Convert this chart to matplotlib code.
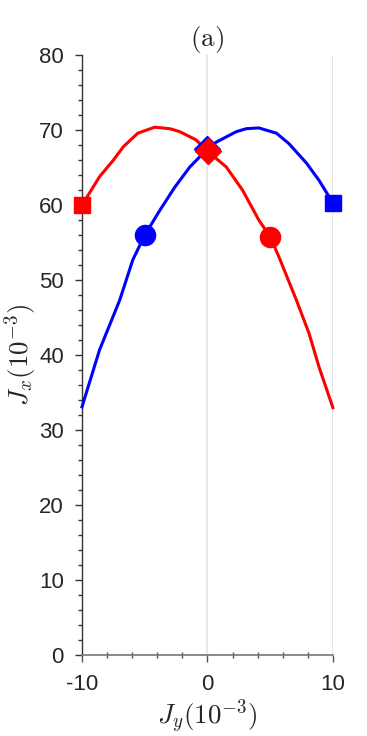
import matplotlib
matplotlib.use("Agg")
import matplotlib.pyplot as plt
from matplotlib.ticker import MultipleLocator

plt.rcParams['mathtext.fontset'] = 'cm'
plt.rcParams['axes.unicode_minus'] = False
plt.rcParams['font.family'] = ['Liberation Sans', 'DejaVu Sans']

# Blue curve
blue_x = [-10, -8.6, -7.0, -5.95, -5.0, -3.8, -2.6, -1.4, 0.0, 0.7, 2.3, 3.1, 4.1, 5.5, 6.5, 7.9, 8.9, 10.0]
blue_y = [33.1, 40.7, 47.3, 52.7, 56.0, 59.3, 62.4, 65.1, 67.5, 68.4, 69.8, 70.2, 70.3, 69.6, 68.2, 65.6, 63.3, 60.3]
# Red curve
red_x = [-10, -8.6, -7.5, -6.7, -5.55, -4.2, -3.0, -2.2, -0.9, 0.0, 1.5, 2.8, 4.1, 5.0, 5.7, 7.1, 8.1, 8.9, 10.0]
red_y = [60.0, 63.8, 66.0, 67.8, 69.6, 70.4, 70.2, 69.8, 68.7, 67.2, 65.1, 62.0, 58.0, 55.8, 53.1, 47.3, 42.9, 38.4, 33.0]

# Marker points
blue_sq = (10.0, 60.3); blue_circ = (-5.0, 56.0); blue_dia = (-0.05, 67.5)
red_sq = (-10.0, 60.0); red_circ = (5.0, 55.8); red_dia = (0.05, 67.2)

xticks = [-10, 0, 10]
xticklabels = ['-10', '0', '10']
yticks = [0, 10, 20, 30, 40, 50, 60, 70, 80]

fig = plt.figure(figsize=(3.67, 7.36), dpi=100)
ax = fig.add_axes([0.2234, 0.110, 0.6836, 0.815])

ax.set_xlim(-10, 10)
ax.set_ylim(0, 80)

ax.xaxis.grid(True, color='#e3e3e3', lw=1.2, zorder=0)
ax.set_axisbelow(True)

ax.plot(blue_x, blue_y, color='blue', lw=2.2, zorder=3, clip_on=False)
ax.plot(red_x, red_y, color='red', lw=2.2, zorder=4, clip_on=False)

ax.plot(*blue_sq, 's', color='blue', ms=11, zorder=5, clip_on=False)
ax.plot(*blue_circ, 'o', color='blue', ms=14.5, zorder=5, clip_on=False)
ax.plot(*blue_dia, 'D', color='blue', ms=13, zorder=5, clip_on=False)
ax.plot(*red_sq, 's', color='red', ms=11, zorder=6, clip_on=False)
ax.plot(*red_circ, 'o', color='red', ms=14.5, zorder=6, clip_on=False)
ax.plot(*red_dia, 'D', color='red', ms=13, zorder=6, clip_on=False)

ax.spines['top'].set_visible(False)
ax.spines['right'].set_visible(False)
ax.spines['left'].set_color('#333333')
ax.spines['bottom'].set_color('#777777')
ax.spines['left'].set_linewidth(1.0)
ax.spines['bottom'].set_linewidth(1.2)

ax.set_xticks(xticks)
ax.set_xticklabels(xticklabels)
ax.set_yticks(yticks)
ax.xaxis.set_minor_locator(MultipleLocator(2))
ax.yaxis.set_minor_locator(MultipleLocator(2))
ax.tick_params(axis='x', which='major', direction='out', length=5, width=1, colors='#555555', labelcolor='#262626', labelsize=16, pad=9)
ax.tick_params(axis='x', which='minor', direction='inout', length=4, width=1, colors='#555555')
ax.tick_params(axis='y', which='major', direction='out', length=5, width=1, colors='#333333', labelcolor='#262626', labelsize=16, pad=8)
ax.tick_params(axis='y', which='minor', direction='out', length=3, width=1, colors='#333333')

ax.set_xlabel(r'$J_y(10^{-3})$', fontsize=19.5, labelpad=1, color='#262626')
ax.set_ylabel(r'$J_x(10^{-3})$', fontsize=19.5, labelpad=0, color='#262626')
ax.set_title(r'$\mathrm{(a)}$', fontsize=19.5, pad=6, color='#262626')

fig.savefig('out.png', dpi=100)
